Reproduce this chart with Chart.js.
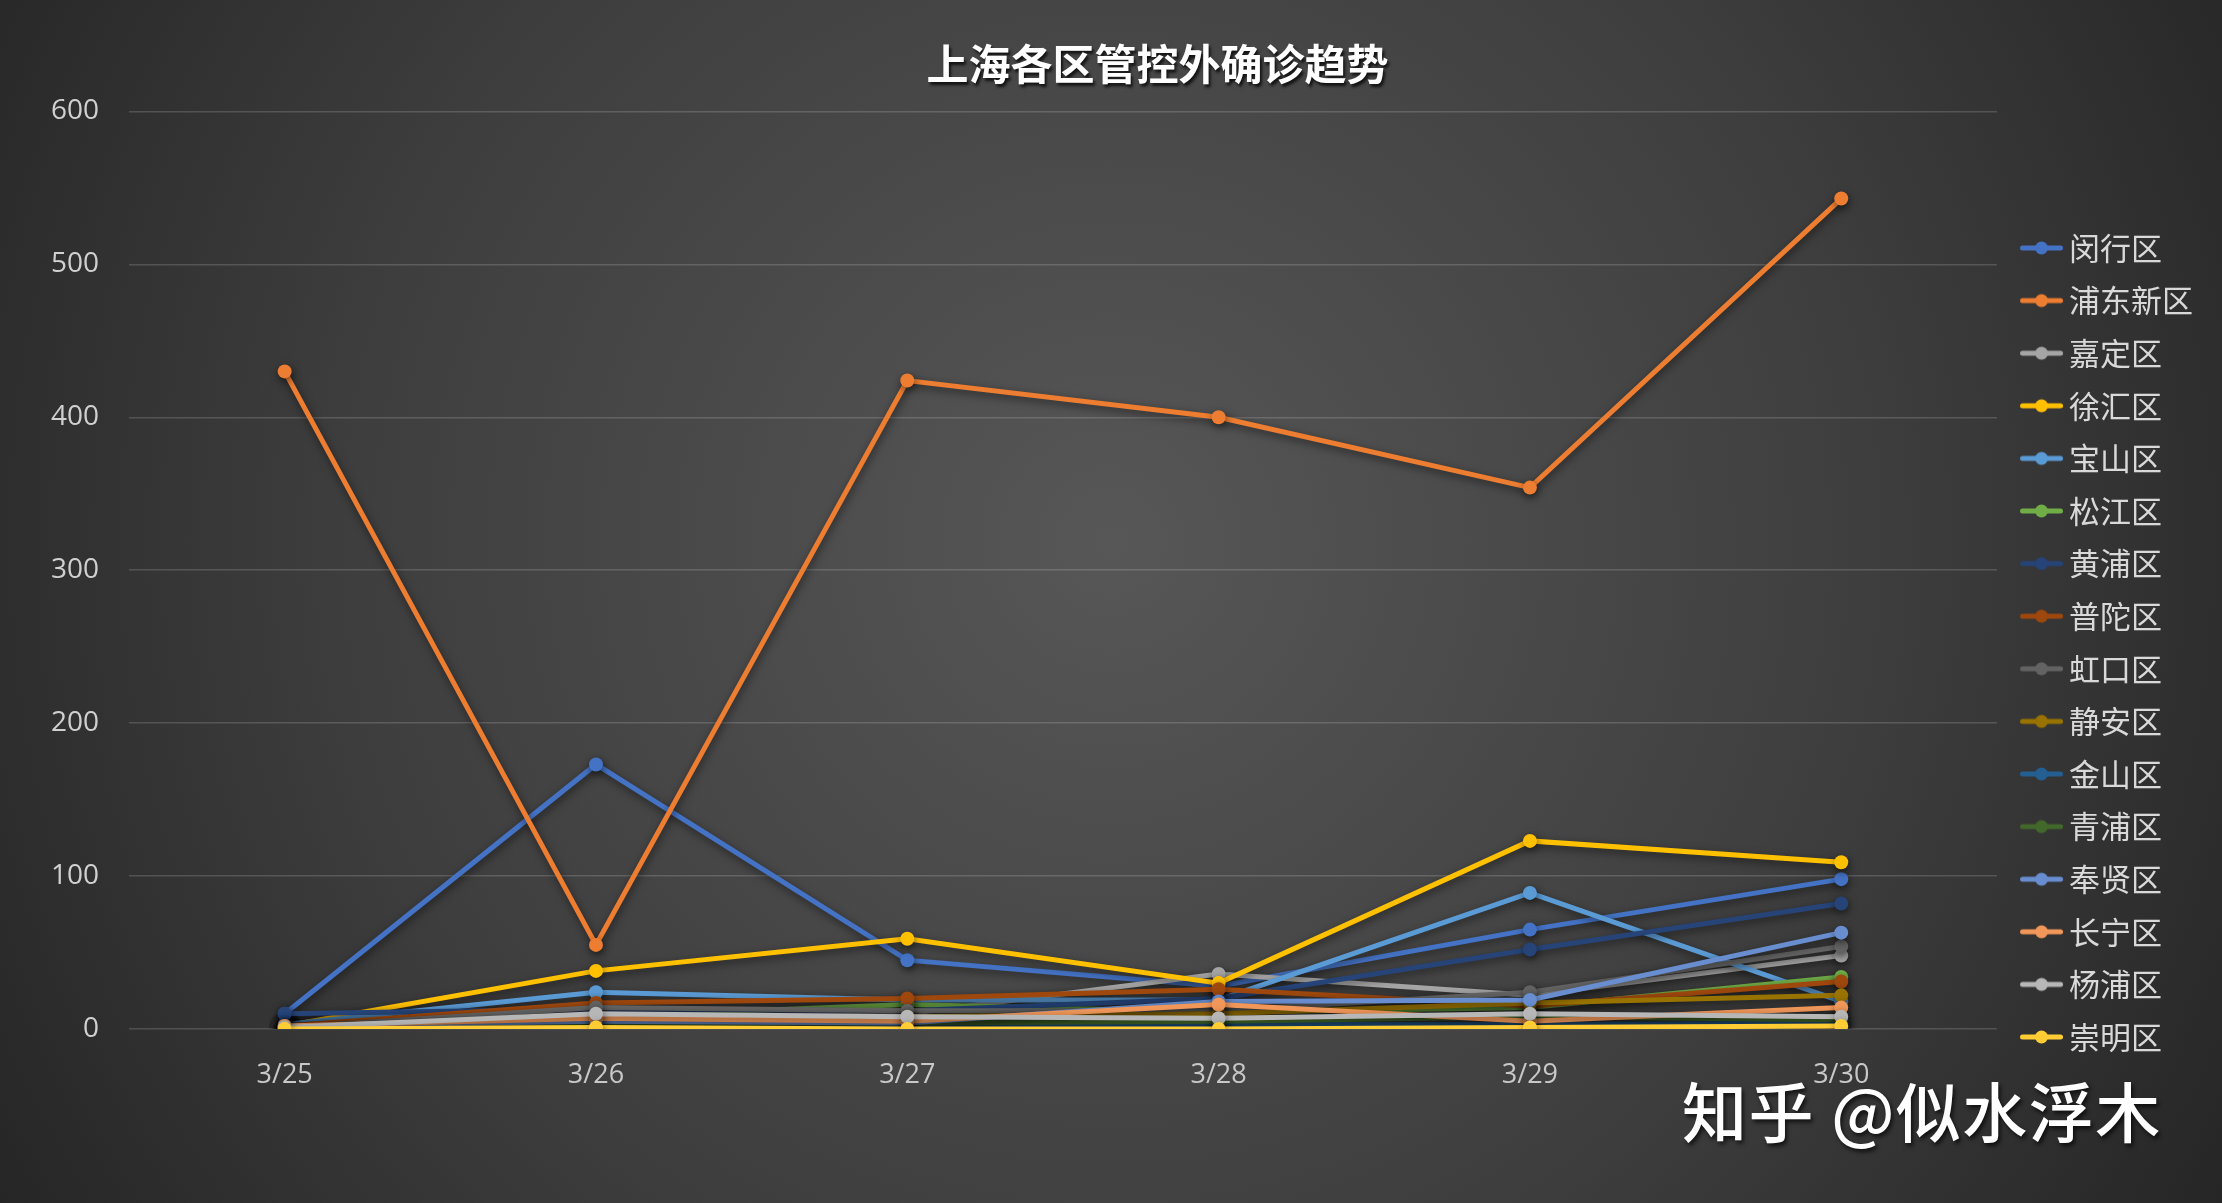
<!DOCTYPE html>
<html>
<head>
<meta charset="utf-8">
<script src="https://cdn.jsdelivr.net/npm/chart.js@4/dist/chart.umd.min.js"></script>
<style>
  html, body { margin: 0; padding: 0; background: #2a2a2a; overflow: hidden; }
  #wrap { position: relative; width: 2222px; height: 1203px; }
  #c { position: absolute; left: 0; top: 0; }
  #wm { position: absolute; left: 1682px; top: 1062px; font-family: "Noto Sans CJK SC", sans-serif; font-weight: 500;
        font-size: 65px; color: #ffffff; white-space: nowrap; text-shadow: 2px 3px 4px rgba(0,0,0,0.7); letter-spacing: 1.5px; }
</style>
</head>
<body>
<div id="wrap">
  <canvas id="c" width="2222" height="1203"></canvas>
  <div id="wm">知乎 @似水浮木</div>
</div>
<script>
const titleText = '上海各区管控外确诊趋势';
const categories = ['3/25', '3/26', '3/27', '3/28', '3/29', '3/30'];
const yTicks = [0, 100, 200, 300, 400, 500, 600];

const districtNames = ['闵行区','浦东新区','嘉定区','徐汇区','宝山区','松江区','黄浦区','普陀区','虹口区','静安区','金山区','青浦区','奉贤区','长宁区','杨浦区','崇明区'];
const districtColors = ['#4472C4','#ED7D31','#A5A5A5','#FFC000','#5B9BD5','#70AD47','#264478','#9E480E','#636363','#997300','#255E91','#43682B','#698ED0','#F1975A','#B7B7B7','#FFCD33'];

const minhang  = [10, 173, 45, 28, 65, 98];
const pudong   = [430, 55, 424, 400, 354, 543];
const jiading  = [2, 8, 10, 36, 22, 48];
const xuhui    = [2, 38, 59, 30, 123, 109];
const baoshan  = [3, 24, 19, 19, 89, 18];
const songjiang= [1, 8, 16, 11, 14, 34];
const huangpu  = [10, 13, 12, 20, 52, 82];
const putuo    = [2, 17, 20, 26, 15, 31];
const hongkou  = [1, 14, 12, 12, 24, 54];
const jingan   = [1, 5, 8, 10, 17, 22];
const jinshan  = [0, 2, 3, 3, 3, 4];
const qingpu   = [0, 2, 4, 5, 8, 6];
const fengxian = [2, 5, 4, 18, 19, 63];
const changning= [2, 7, 5, 16, 5, 14];
const yangpu   = [1, 10, 8, 7, 10, 8];
const chongming= [0, 1, 0, 0, 1, 2];

const seriesValues = [minhang, pudong, jiading, xuhui, baoshan, songjiang, huangpu, putuo, hongkou, jingan, jinshan, qingpu, fengxian, changning, yangpu, chongming];

function makeMarker(color) {
  const cv = document.createElement('canvas');
  cv.width = 70; cv.height = 18;
  const g = cv.getContext('2d');
  g.strokeStyle = color; g.lineWidth = 5; g.lineCap = 'round';
  g.beginPath(); g.moveTo(21.5, 9); g.lineTo(59.5, 9); g.stroke();
  g.fillStyle = color;
  g.beginPath(); g.arc(40.5, 9, 6.5, 0, Math.PI * 2); g.fill();
  return cv;
}
const markers = districtColors.map(makeMarker);

const datasets = districtNames.map((name, i) => ({
  label: name,
  data: seriesValues[i],
  borderColor: districtColors[i],
  backgroundColor: districtColors[i],
  borderWidth: 5,
  pointRadius: 7,
  pointHoverRadius: 7,
  pointBorderWidth: 0,
  tension: 0,
  order: districtNames.length - i
}));

const bgPlugin = {
  id: 'bg',
  beforeDraw(chart) {
    const ctx = chart.ctx;
    const w = chart.width, h = chart.height;
    ctx.save();
    const g = ctx.createRadialGradient(w * 0.5, h * 0.45, 0, w * 0.5, h * 0.45, w * 0.62);
    g.addColorStop(0, '#575757');
    g.addColorStop(0.55, '#3e3e3e');
    g.addColorStop(1, '#222222');
    ctx.fillStyle = g;
    ctx.fillRect(0, 0, w, h);
    ctx.restore();
  }
};

const shadowPlugin = {
  id: 'lineShadow',
  beforeDatasetDraw(chart) {
    const ctx = chart.ctx;
    ctx.save();
    ctx.shadowColor = 'rgba(0,0,0,0.55)';
    ctx.shadowBlur = 8;
    ctx.shadowOffsetX = 1;
    ctx.shadowOffsetY = 3;
  },
  afterDatasetDraw(chart) {
    chart.ctx.restore();
  }
};

const titleShadowPlugin = {
  id: 'titleShadow',
  afterInit(chart) {
    const tb = chart.titleBlock;
    if (tb && !tb._patched) {
      const orig = tb.draw.bind(tb);
      tb.draw = function () {
        const ctx = chart.ctx;
        ctx.save();
        ctx.translate(56, 0);
        ctx.shadowColor = 'rgba(0,0,0,0.75)';
        ctx.shadowBlur = 3;
        ctx.shadowOffsetX = 2;
        ctx.shadowOffsetY = 3;
        orig();
        ctx.restore();
      };
      tb._patched = true;
    }
  }
};

new Chart(document.getElementById('c'), {
  type: 'line',
  data: { labels: categories, datasets },
  plugins: [bgPlugin, shadowPlugin, titleShadowPlugin],
  options: {
    responsive: false,
    animation: false,
    events: [],
    layout: { padding: { left: 0, right: 19, top: 0, bottom: 0 } },
    plugins: {
      title: {
        display: true,
        text: titleText,
        color: '#ffffff',
        font: { family: '"Noto Sans CJK SC", sans-serif', size: 42, weight: 'bold', lineHeight: 1.2 },
        padding: { top: 39, bottom: 22 }
      },
      legend: {
        position: 'right',
        reverse: true,
        title: { display: true, text: '', font: { size: 10, lineHeight: 1.2 }, padding: { top: 70, bottom: 0 } },
        labels: {
          color: '#d9d9d9',
          font: { family: '"Noto Sans CJK SC", sans-serif', size: 31 },
          usePointStyle: true,
          pointStyleWidth: 35,
          boxWidth: 35,
          padding: 21.6,
          generateLabels(chart) {
            const items = Chart.defaults.plugins.legend.labels.generateLabels(chart);
            items.forEach(it => { it.pointStyle = markers[it.datasetIndex]; it.fontColor = '#d9d9d9'; });
            return items;
          }
        }
      },
      tooltip: { enabled: false }
    },
    scales: {
      x: {
        offset: true,
        grid: { display: false, drawTicks: false },
        border: { display: false },
        ticks: { color: '#c8c8c8', padding: 30, font: { family: '"Open Sans", sans-serif', size: 27 } },
        afterFit(scale) { scale.height = 174; }
      },
      y: {
        min: 0, max: 600,
        afterBuildTicks(scale) { scale.ticks = yTicks.map(v => ({ value: v })); },
        grid: { color: 'rgba(255,255,255,0.16)', lineWidth: 1.5, drawTicks: false },
        border: { display: false },
        ticks: { color: '#d0d0d0', padding: 30, font: { family: '"Open Sans", sans-serif', size: 28 } },
        afterFit(scale) { scale.width = 129; }
      }
    }
  }
});
</script>
</body>
</html>
